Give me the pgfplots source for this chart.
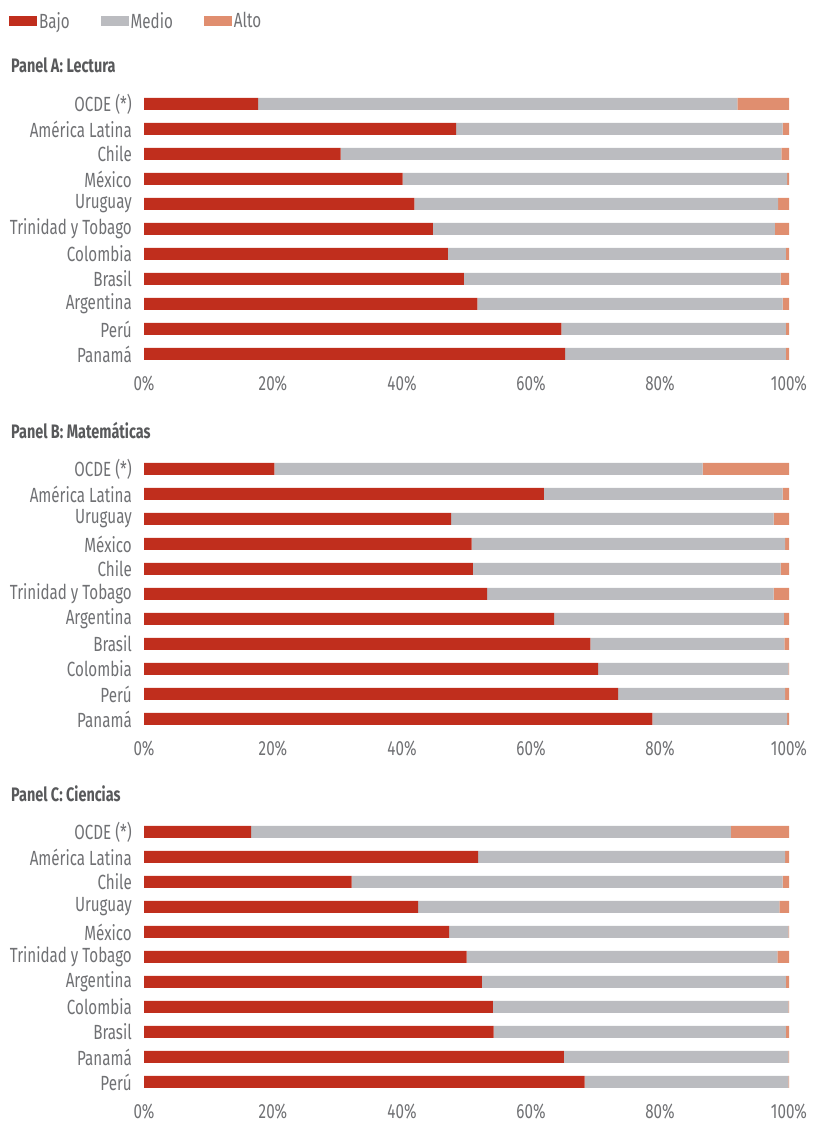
\documentclass[border=0pt]{standalone}
\usepackage{fontspec}
\setmainfont{Fira Sans}[FakeStretch=0.74]
\usepackage{pgfplots}
\usepackage{pgfplotstable}
\pgfplotsset{compat=1.18}
\definecolor{bajo}{HTML}{C02E1D}
\definecolor{medio}{HTML}{BBBCC0}
\definecolor{alto}{HTML}{E08E6F}
\definecolor{txt}{HTML}{707174}
\definecolor{ttl}{HTML}{58595B}

% y: 0 = bottom row, 10 = top row
\pgfplotstableread{
y b m a
10 17.7 74.3 8.0
9 48.4 50.6 1.0
8 30.5 68.3 1.2
7 40.1 59.6 0.3
6 41.9 56.4 1.7
5 44.8 53.0 2.2
4 47.1 52.4 0.5
3 49.6 49.1 1.3
2 51.7 47.3 1.0
1 64.7 34.8 0.5
0 65.3 34.2 0.5
}\lectura
\pgfplotstableread{
y b m a
10 20.2 66.4 13.4
9 62.0 37.0 1.0
8 47.6 50.0 2.4
7 50.8 48.6 0.6
6 51.0 47.7 1.3
5 53.2 44.4 2.4
4 63.6 35.6 0.8
3 69.2 30.1 0.7
2 70.4 29.5 0.1
1 73.5 25.9 0.6
0 78.8 20.9 0.3
}\matematicas
\pgfplotstableread{
y b m a
10 16.6 74.4 9.0
9 51.8 47.6 0.6
8 32.2 66.8 1.0
7 42.5 56.0 1.5
6 47.3 52.6 0.1
5 50.0 48.2 1.8
4 52.4 47.1 0.5
3 54.1 45.8 0.1
2 54.2 45.3 0.5
1 65.1 34.8 0.1
0 68.3 31.6 0.1
}\ciencias

\pgfplotsset{
 panel/.style={
  xbar stacked, bar width=12pt,
  width=645pt, height=280pt, scale only axis,
  xmin=0, xmax=100, ymin=-0.6, ymax=10.6,
  axis line style={draw=none}, major tick length=0pt,
  xtick={0,20,40,60,80,100},
  xticklabels={0\%,20\%,40\%,60\%,80\%,100\%},
  ytick={0,...,10},
  tick label style={font=\fontsize{20.5}{20.5}\selectfont, text=txt},
  yticklabel style={anchor=east, inner sep=0pt, xshift=-12pt},
  xticklabel style={anchor=north, inner sep=0pt, yshift=-7pt, text depth=0pt},
  title style={anchor=west, at={(-0.2062,1.062)}, yshift=0pt, font=\fontsize{19.5}{19.5}\selectfont\bfseries, text=ttl, inner sep=0pt},
  anchor=south west,
 },
 leg/.style={legend image code/.code={\path[##1,draw=none] (0pt,-5pt) rectangle (28pt,5pt);}},
}

\begin{document}
\begin{tikzpicture}
\path[use as bounding box] (0pt,0pt) rectangle (812pt,1124pt);

\begin{axis}[panel, at={(144pt,755pt)},
  title={Panel A: Lectura},
  yticklabels={Panamá,Perú,Argentina,Brasil,Colombia,Trinidad y Tobago,Uruguay,México,Chile,América Latina,OCDE (*)},
  legend style={at={(-0.2093,1.243)}, anchor=west, draw=none, fill=none, inner sep=0pt,
    legend columns=3, font=\fontsize{20.5}{20.5}\selectfont, text=txt,
    nodes={inner sep=2pt},
    /tikz/every even column/.append style={column sep=29pt}},
  legend cell align=left]
\addplot[leg, fill=bajo, draw=none] table[x=b, y=y]{\lectura};
\addplot[leg, fill=medio, draw=none] table[x=m, y=y]{\lectura};
\addplot[leg, fill=alto, draw=none] table[x=a, y=y]{\lectura};
\legend{Bajo,Medio,Alto}
\end{axis}

\begin{axis}[panel, at={(144pt,390pt)},
  title={Panel B: Matemáticas},
  yticklabels={Panamá,Perú,Colombia,Brasil,Argentina,Trinidad y Tobago,Chile,México,Uruguay,América Latina,OCDE (*)}]
\addplot[fill=bajo, draw=none] table[x=b, y=y]{\matematicas};
\addplot[fill=medio, draw=none] table[x=m, y=y]{\matematicas};
\addplot[fill=alto, draw=none] table[x=a, y=y]{\matematicas};
\end{axis}

\begin{axis}[panel, at={(144pt,27pt)},
  title={Panel C: Ciencias},
  yticklabels={Perú,Panamá,Brasil,Colombia,Argentina,Trinidad y Tobago,México,Uruguay,Chile,América Latina,OCDE (*)}]
\addplot[fill=bajo, draw=none] table[x=b, y=y]{\ciencias};
\addplot[fill=medio, draw=none] table[x=m, y=y]{\ciencias};
\addplot[fill=alto, draw=none] table[x=a, y=y]{\ciencias};
\end{axis}
\end{tikzpicture}
\end{document}
